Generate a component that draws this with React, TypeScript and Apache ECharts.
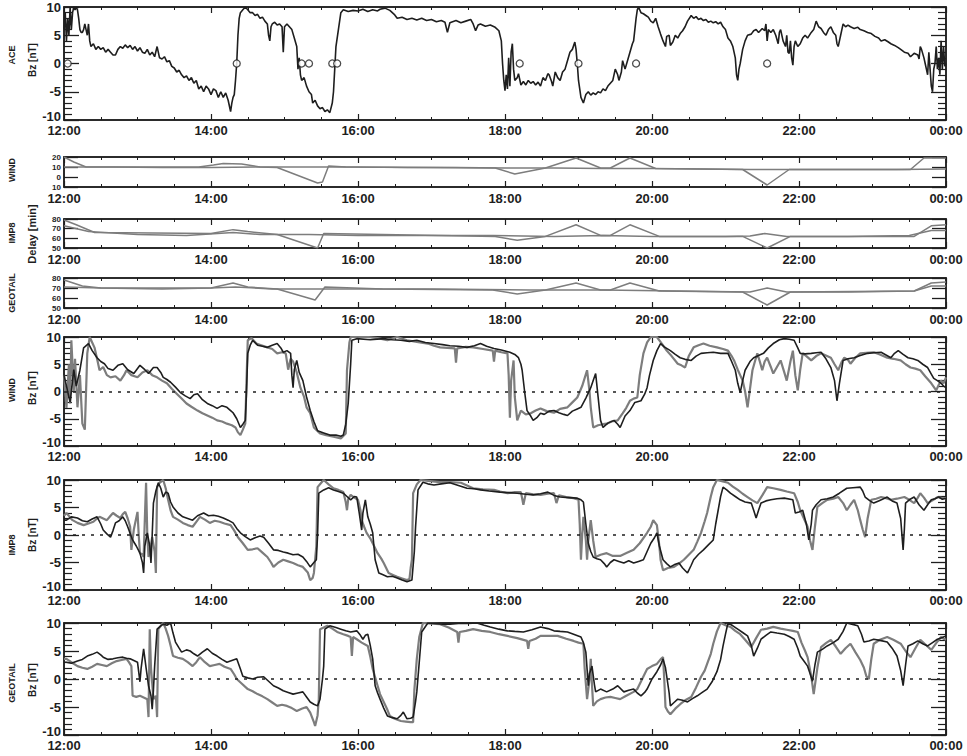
import React, { useEffect, useRef } from "react";
import * as echarts from "echarts";

type P = [number, number][];

const HOUR_LABELS = ["12:00", "14:00", "16:00", "18:00", "20:00", "22:00", "00:00"];
const BZ_TICK_LABELS = ["-10", "-5", "0", "5", "10"];
const WIND_DELAY_TICK_LABELS = ["10", "0", "10", "20"];
const DELAY_TICK_LABELS = ["50", "60", "70", "80"];

// minutes after 12:00 UT, value
const ACE_BZ: P = [[0,6],[1,9],[2,4],[3,8],[4,5],[5,10],[6,6],[7,9],[8,10],[9,9.5],[10,10],[11,9.5],[12,8],[13,6],[14,5.5],[15,5.5],[16,6],[17,7],[18,6],[19,5],[20,7],[21,4],[22,3],[24,3.5],[26,2.5],[28,3],[30,2.5],[32,2.8],[34,2],[36,2.5],[38,2],[40,1.5],[42,1.5],[44,2.5],[46,3],[48,2.7],[50,3.3],[52,2.8],[54,3.2],[56,2.5],[58,3],[60,2.2],[62,2.8],[64,2],[66,1.8],[68,2.5],[70,1.5],[72,2],[74,1.2],[76,3],[78,1],[80,0.8],[82,1.2],[84,0.3],[86,0.5],[88,-0.5],[90,-0.8],[92,-1.5],[94,-1.2],[96,-2],[98,-2.5],[100,-2.2],[102,-3],[104,-2.5],[106,-3.5],[108,-3],[110,-4.5],[112,-4],[114,-5],[116,-4],[118,-4.5],[120,-5.5],[122,-4.5],[124,-4.8],[126,-6],[128,-5],[130,-6],[132,-5.2],[134,-6.5],[136,-8.5],[137,-7],[138,-6],[139,-5.5],[140,-3],[141,0],[142,5],[143,8],[144,9],[146,9.5],[148,10],[150,9.5],[152,9],[154,9],[156,8.5],[158,8.7],[160,8],[162,8.2],[164,7.5],[166,7],[167,5],[168,4],[169,6.5],[170,7],[172,7.3],[174,6.8],[176,7],[178,6.5],[179,2],[180,6.5],[182,7],[184,6.5],[186,6],[188,4.5],[190,3],[191,-1],[192,1],[193,-2],[194,-3],[196,-2.5],[198,-4],[200,-5],[202,-5.5],[203,-7],[205,-6.5],[207,-7.5],[209,-8],[211,-7.8],[213,-8.5],[215,-8.2],[217,-8.7],[219,-7],[220,-5],[221,-1],[222,3],[224,6],[226,9],[228,9.5],[232,9.2],[236,9.4],[240,9.3],[244,9.6],[248,9.2],[252,9.5],[256,9.3],[258,9.6],[262,9.8],[266,9.4],[270,8.6],[272,8],[276,8.2],[280,7.8],[284,8],[288,7.7],[292,8],[296,7.6],[300,7.8],[304,7.4],[308,7.6],[311,7.3],[313,5.5],[315,7.2],[320,7.6],[324,7.2],[328,7.5],[332,7.8],[334,7],[336,5.8],[338,6.8],[340,7],[344,6.6],[348,6.8],[352,6.4],[355,5.8],[357,4],[358,0],[359,-3],[360,-4.8],[361,-2],[362,-4.5],[363,1],[364,-4],[365,2],[366,3.5],[367,-1],[368,-3],[370,-2.5],[371,-1.8],[373,-3.8],[375,-3.2],[377,-3.8],[379,-3],[381,-3.5],[383,-3.2],[385,-3.8],[387,-3.3],[389,-4],[391,-2.5],[393,-3],[395,-1.8],[396,-2],[398,-3.2],[399,-4],[401,-1.5],[403,-2.5],[405,-3],[407,-1.5],[409,-1],[411,0.5],[413,2],[415,2.5],[417,3.8],[418,2.5],[419,0],[420,-3],[422,-6],[424,-7],[426,-5.5],[428,-5],[430,-5.6],[432,-5.2],[434,-5.5],[436,-5],[438,-5.2],[440,-4.5],[442,-4.8],[444,-4],[446,-3.5],[448,-3],[450,-1],[452,-2],[453,-3],[455,-1.5],[456,0.5],[458,-1],[460,0.5],[462,2],[464,3.5],[465,4],[466,6],[467,8],[468,9.5],[469,10],[471,9],[473,8.8],[475,8.5],[477,8.2],[479,7.5],[481,7.2],[483,8],[485,6.5],[487,5.2],[489,4],[491,3],[492,4.8],[494,5],[495,3.2],[497,3.8],[499,5],[501,4.5],[503,5.3],[505,5.8],[507,6.5],[509,7.5],[512,8.5],[514,8],[516,8.3],[518,7.8],[520,8],[522,7.6],[524,7.8],[526,7.3],[528,7.5],[530,7.2],[532,7.4],[534,7],[536,7.3],[538,6.5],[540,6],[542,4.5],[544,4],[546,3],[548,1],[549,-2],[550,-3],[551,-1],[552,0],[554,2.5],[556,4],[558,5],[561,5.2],[563,5.8],[565,6],[567,5.5],[570,6.2],[572,5.8],[573,7],[574,4],[575,6],[577,5.5],[579,6],[581,5],[583,3.5],[584,5.5],[585,6],[587,4],[589,3],[590,5],[591,2],[592,1.8],[593,4],[594,1],[595,-0.3],[596,3],[597,4],[599,3],[601,3.5],[603,4.5],[605,5],[607,4.5],[610,5.5],[612,6],[614,7.5],[616,6.5],[618,6.2],[620,5.5],[622,5],[624,6],[626,6.5],[628,5.5],[630,5],[631,3.5],[632,3],[634,5],[636,7],[638,6.5],[640,6.8],[642,6.5],[645,6.2],[648,6.4],[650,6],[653,5.8],[656,5.5],[659,5.3],[662,4.8],[665,4.5],[667,4],[670,4.2],[673,3.8],[675,3.5],[678,3.2],[681,2.8],[683,2.5],[686,2],[689,1.8],[691,1.2],[694,1.8],[697,1.5],[698,0.8],[699,3],[700,2.5],[702,1],[703,0],[704,-1],[705,-2],[706,2],[707,-1],[708,-4],[709,-5],[710,-1],[711,0],[712,3],[713,-1],[714,1],[715,-2],[716,4],[717,-1],[718,3],[719,-0.5],[720,0]];

const ACE_MARK_TIMES = [3, 141, 194, 200, 219, 223, 372, 420, 467, 574];

const WIND_DELAY_A: P = [[0,10],[40,10],[80,9.5],[120,9.5],[160,10],[200,10],[240,10],[280,9.5],[320,9.5],[360,9],[400,9],[440,8.5],[480,8.5],[520,8],[560,7.5],[600,7.5],[640,7.5],[680,7.5],[720,8]];
const WIND_DELAY_B: P = [[0,20],[8,15],[18,10],[60,10],[110,10],[122,12],[130,13.5],[145,13],[160,10],[174,9.5],[207,-6],[211,-5],[216,11],[230,10],[300,9.5],[352,9],[368,3],[393,9],[418,19],[438,9],[446,9],[462,19],[483,8.5],[554,7.5],[574,-8],[592,7.5],[691,7.5],[702,19],[720,19]];

const IMP8_DELAY_A: P = [[0,73],[20,67],[60,64],[100,63],[138,66],[160,64],[200,64],[240,63],[300,63],[350,63],[400,62],[440,63],[480,62],[540,62],[560,62.5],[572,65],[590,62],[640,62],[690,63],[708,68],[720,68]];
const IMP8_DELAY_B: P = [[0,79],[10,74],[25,66],[120,65],[138,69],[150,67],[174,64],[207,50],[212,65],[260,64],[352,62],[370,58],[393,62],[418,74],[438,63],[446,63],[462,74],[486,62],[554,62],[574,50],[593,62],[694,62],[708,73],[720,74]];

const GEOTAIL_DELAY_A: P = [[0,71],[30,70],[80,69],[120,70],[140,71],[170,69],[220,69],[300,69],[380,68],[440,68],[500,67],[560,66],[574,70],[590,66],[640,66],[694,67],[708,72],[720,72]];
const GEOTAIL_DELAY_B: P = [[0,78],[15,72],[30,70],[120,70],[138,75],[150,71],[174,69],[205,58],[213,71],[260,69],[350,68],[370,64],[393,68],[418,75],[438,68],[446,68],[462,75],[486,67],[554,66],[574,53],[593,66],[694,67],[708,75],[720,76]];

const WIND_BZ_OBS: P = [[0,3],[3,0],[5,-2],[8,4],[10,1],[13,3.9],[16,8],[20,8.8],[23,7.5],[27,6.2],[30,5.5],[33,5.1],[36,4.2],[40,3.9],[44,4.8],[48,5.1],[52,4],[57,3.3],[62,4.8],[66,4],[69,3.3],[73,4.4],[76,4.4],[79,3.5],[81,2.6],[84,2.2],[87,1.7],[91,0.8],[95,-0.2],[99,-0.8],[103,-1.3],[106,-0.6],[109,-0.4],[113,-1.5],[117,-2.2],[121,-2.6],[125,-3.1],[129,-2.6],[133,-2.9],[136,-3.5],[138,-3.9],[141,-5],[144,-6.6],[146,-6],[148,-5.3],[149,0],[150,7],[152,8.5],[154,9.4],[158,8.5],[162,8.3],[166,8.1],[170,8.5],[174,8.8],[177,8],[179,7.2],[182,7.5],[185,7],[186,3],[187,0.7],[188,4],[190,5.7],[192,3.5],[195,2],[198,-1],[201,-3.5],[204,-5.5],[207,-7.2],[212,-7.6],[217,-8],[222,-8],[226,-8.2],[228,-8],[230,-6],[232,-2.2],[234,5],[235,9.4],[239,9.7],[250,9.5],[261,9.7],[268,9.5],[275,9.4],[282,9.2],[288,9.4],[295,9],[302,8.8],[309,8.6],[315,8.4],[322,8.3],[329,8.1],[335,8.4],[340,8.8],[345,8.3],[351,7.9],[357,7.6],[364,7.2],[368,6.8],[371,6.2],[373,5],[374,3.9],[376,0],[378,-3.5],[381,-4.5],[383,-5.3],[386,-4.8],[389,-4],[392,-4.2],[396,-3.6],[400,-3.5],[404,-3.9],[408,-4.2],[411,-4.4],[415,-3.6],[419,-3.2],[422,-2.9],[426,-1.2],[430,0.7],[432,2],[434,3.3],[436,-1],[438,-5.3],[440,-6.6],[444,-5.8],[449,-5.3],[452,-6],[454,-6.6],[458,-4.5],[462,-3.5],[466,-2],[471,-1.7],[474,-0.5],[476,0.7],[478,3],[481,5.7],[484,7.5],[487,8.8],[490,8.2],[495,7.5],[499,6.8],[503,6.2],[507,5.9],[512,5.7],[516,6.5],[520,7],[525,7.1],[530,7.2],[536,7],[542,7],[545,5.5],[548,3.9],[550,1.5],[552,-0.2],[554,2],[556,3.9],[560,5.5],[563,6.2],[567,6.6],[571,7],[575,8],[579,8.8],[584,9.5],[588,9.7],[592,9.6],[596,9.4],[599,8],[601,7],[605,6.9],[610,7],[614,7.1],[618,7.2],[622,6],[626,4.4],[629,2],[631,-1.7],[633,1.5],[636,5.7],[640,6],[645,6.2],[650,6.6],[656,7],[661,7.1],[667,7.2],[671,6.7],[675,6.2],[678,7],[681,7.5],[685,6.8],[689,6.2],[693,6],[697,5.7],[701,5],[705,4.4],[708,3.2],[710,2.4],[713,2],[716,1.5],[718,1],[720,0.7]];
const WIND_BZ_ACE: P = [[0,3],[2,-3],[4,5],[5,-2.2],[6,9.4],[8,0],[9,6],[11,-2.9],[13,3],[15,-5.9],[17,-7],[19,7],[21,10],[23,9],[25,8],[27,6],[29,3.9],[32,4.5],[35,3],[38,2.6],[42,2.8],[46,2],[49,3],[51,3.9],[55,3],[60,2.6],[64,3.5],[68,3.9],[72,3],[76,2.6],[80,2],[84,1.5],[88,0.5],[92,-0.4],[96,-1.3],[100,-2.2],[104,-2.8],[109,-3.5],[113,-4],[117,-4.4],[121,-4.8],[125,-5.3],[129,-5.5],[133,-5.9],[137,-6.2],[140,-6.6],[142,-7.5],[144,-8],[146,-7],[148,-5.9],[149,2],[150,9.4],[153,9.8],[157,8.8],[161,8.5],[166,8.1],[170,7.8],[174,7],[178,7.2],[181,7],[183,4],[185,6],[187,5.5],[190,3.5],[193,0.7],[196,-1],[198,-2.9],[201,-4],[204,-6.6],[209,-7.7],[214,-8],[220,-8.3],[226,-8.6],[230,-7.7],[231,3.9],[233,9],[234,10],[241,10],[248,10],[256,9.8],[264,9.4],[272,10],[280,9.4],[288,9.1],[297,8.8],[302,8.4],[307,8.1],[313,8],[319,7.9],[320,5.3],[321,7.9],[328,8.2],[334,8.1],[342,7.8],[350,7.5],[351,5.5],[352,7.5],[357,7.2],[362,7],[363,3],[364,-4.8],[365,2],[367,5.7],[368,-1],[370,-5.3],[373,-3.5],[377,-4.2],[381,-4],[385,-3.5],[389,-3.1],[394,-3.6],[400,-3.9],[405,-3.2],[411,-2.9],[415,-2],[419,-1.1],[423,1],[427,3.9],[429,0],[430,-2.9],[432,-6.6],[436,-6.2],[440,-6],[443,-5.9],[447,-5.5],[452,-5.3],[456,-4],[459,-3],[462,-1.7],[465,-1.3],[468,-1.1],[470,3],[473,7],[476,9],[479,10],[484,10],[488,8.8],[492,7.5],[496,6.5],[501,5.1],[504,4.8],[507,4.4],[510,6.5],[514,8.1],[518,8.5],[522,8.8],[527,8.4],[533,8.1],[538,7.8],[542,7.5],[545,6.5],[547,5.7],[550,4],[554,2],[556,0],[558,-2.9],[560,0.5],[562,3.9],[564,5.5],[566,7],[568,5.5],[570,3.9],[572,5.5],[574,6.2],[577,4.5],[579,3.3],[582,4.5],[585,5.7],[588,3.5],[590,2],[593,5.5],[595,7.5],[597,3],[599,0.2],[601,4],[603,7],[606,6.5],[610,5.7],[614,6.5],[618,7],[622,6.6],[626,6.2],[629,5],[632,3.9],[635,5.5],[637,6.2],[640,5.8],[642,5.1],[646,6.2],[650,7],[655,7.1],[661,7.2],[666,6.8],[672,6.2],[677,6],[683,5.7],[687,5],[691,4.4],[695,4.2],[699,3.9],[703,2.8],[708,1.5],[712,0.2],[714,1.2],[716,2],[718,1.5],[720,2.6]];

const IMP8_BZ_OBS: P = [[0,2.7],[2,2.7],[6,3.3],[11,3.1],[15,2.6],[19,2.4],[23,2.9],[27,3.3],[30,2],[32,0.9],[35,0.2],[38,-0.4],[40,0.8],[42,2.2],[45,2.6],[48,3.3],[50,2.6],[52,1.5],[54,0.3],[56,-0.9],[59,-2],[62,-3.3],[64,-5],[65,-6.9],[66,-2],[68,0.4],[70,-2],[71,-5.1],[72,0],[73,5.8],[75,8],[77,9.5],[79,8.5],[81,6.9],[83,7.8],[85,7.6],[87,6],[89,5.1],[93,4],[97,3.3],[101,3],[105,2.7],[109,3.5],[114,4],[118,3.5],[122,3.6],[126,3.4],[130,3.1],[134,2.7],[138,2.2],[141,1.2],[144,0.4],[148,-0.3],[152,-0.9],[156,-0.5],[160,-0.2],[163,-0.4],[167,-1.5],[171,-2.7],[175,-2.8],[179,-3.1],[183,-3.3],[187,-3.6],[191,-3.5],[195,-4],[198,-4.8],[201,-5.8],[204,-5],[206,-4.5],[207,0],[208,7.6],[212,8.2],[216,8.6],[220,8.2],[224,7.9],[228,7.6],[231,7],[234,6.4],[237,7],[239,6.9],[241,4],[243,0.9],[244,4],[246,6.4],[248,3.3],[250,2],[252,0.4],[254,-4.5],[257,-6.9],[260,-7.2],[264,-7.6],[268,-7.5],[272,-7.8],[276,-8.2],[280,-8.5],[284,-8.2],[286,-3],[287,1.5],[289,8.2],[293,9.6],[297,9.3],[302,9.1],[308,9.3],[315,9.5],[322,9],[329,8.5],[335,8.4],[340,8.2],[347,8],[356,7.8],[363,7.7],[370,7.6],[377,7.4],[383,7.3],[389,7.5],[395,7.8],[400,7.2],[405,6.9],[412,6.8],[419,6.7],[422,6.4],[424,6],[426,2],[428,-1.5],[430,-3],[432,-4],[435,-4.3],[438,-4.5],[441,-5.2],[443,-5.8],[446,-5],[449,-4.5],[453,-4.8],[457,-5.1],[461,-4.7],[465,-5.1],[469,-4.8],[473,-4.5],[476,-3],[479,-1.5],[482,-0.5],[484,0.4],[486,-2],[489,-4.5],[492,-5.2],[495,-5.8],[499,-5.3],[502,-5.1],[505,-6],[509,-6.9],[512,-5.5],[514,-4.5],[518,-3.5],[522,-2.7],[526,-1.8],[530,-0.9],[532,2],[534,4.5],[536,7],[538,8.7],[541,8.2],[544,7.6],[548,7],[552,6.4],[556,6],[561,5.8],[563,4.5],[565,3.1],[567,4.5],[569,5.8],[573,6.2],[577,6.4],[582,6.6],[588,6.7],[595,6.4],[597,4],[600,4.2],[603,4.5],[606,2],[608,-0.9],[610,2],[611,4.5],[614,5.5],[618,6.4],[623,6.6],[628,6.9],[633,7.6],[639,8.5],[644,8.6],[650,8.7],[652,8],[654,6.9],[658,6.2],[661,5.8],[665,6.2],[669,6.6],[672,6.9],[676,6.2],[680,5.8],[683,3],[685,-2.7],[686,1],[687,5.8],[690,6.4],[694,6.9],[698,5.5],[702,4.5],[705,5.5],[708,6.4],[711,6.6],[714,6.9],[717,6.5],[720,6.7]];
const IMP8_BZ_ACE: P = [[0,3.5],[2,4],[5,3.2],[7,2.7],[11,2.2],[16,1.8],[20,2.1],[24,2.4],[27,3],[29,3.3],[32,3],[35,2.7],[38,3.5],[40,4],[43,3.5],[46,3.1],[48,3.8],[50,4.2],[52,3],[54,1.5],[55,-2.7],[57,1],[60,4.2],[61,0],[62,-3.3],[64,-3.5],[65,-4],[66,3],[67,9.5],[68,0],[69,-4],[70,-3],[72,-0.4],[74,-3],[75,-6.9],[76,8.7],[78,9.5],[81,10],[83,8.5],[85,6.4],[87,4.5],[89,3.3],[93,2.8],[97,2.2],[101,1.8],[105,1.5],[108,2.4],[111,3.3],[115,2.8],[119,2.2],[123,2.6],[127,2.4],[131,2.1],[136,1.8],[139,0.8],[142,-0.4],[146,-1.5],[150,-2.7],[154,-2.6],[158,-2.4],[162,-3.2],[166,-4],[169,-5],[171,-5.8],[175,-5],[179,-4.5],[183,-4.8],[187,-5.1],[191,-5.5],[195,-5.8],[199,-6.8],[201,-8.2],[203,-7.8],[204,-6.9],[206,-2],[207,8.7],[210,9.5],[212,10],[216,9.2],[220,8.5],[224,8.2],[228,7.8],[230,6],[231,4.5],[232,6.5],[234,7.3],[237,6.8],[240,6.4],[242,4.5],[243,2.7],[245,1.5],[247,0.4],[250,-0.6],[252,-1.5],[254,-2.4],[256,-3.3],[259,-4.3],[261,-5.1],[263,-6],[265,-6.9],[269,-7.3],[272,-7.6],[276,-7.9],[280,-8.2],[282,-8],[283,-6],[284,-4.5],[285,7.6],[288,9.2],[291,10],[299,9.8],[307,9.6],[315,9.6],[324,9.5],[329,9],[334,8.5],[342,8.3],[351,8.2],[356,7.9],[362,7.6],[368,7.8],[373,7.8],[375,5.5],[377,7.6],[383,7.4],[389,7.3],[395,7.5],[400,7.6],[402,5.8],[404,7.2],[410,6.9],[416,6.7],[420,6.4],[421,2],[422,-4.5],[423,0],[424,3.3],[426,-1],[427,-4.5],[428,-1],[430,2.7],[432,-1],[434,-4],[438,-3.6],[443,-3.3],[448,-3.8],[454,-3.8],[460,-3.2],[465,-2.7],[470,-1.5],[476,0.4],[479,1.5],[481,2.7],[484,1.8],[486,-2],[487,-4.5],[489,-6.4],[493,-6],[498,-5.8],[502,-5.2],[506,-4.5],[510,-3.6],[514,-2.7],[517,-1.2],[520,0.4],[523,2.5],[525,4],[528,7],[530,8.7],[533,10],[537,9.8],[542,9.5],[546,8.8],[550,8.2],[554,7.5],[558,6.9],[562,6.3],[566,5.8],[570,7.2],[574,8.7],[579,8.5],[585,8.2],[590,7.9],[596,7.6],[599,6],[601,4.5],[604,3],[607,1.5],[609,-1],[611,-2.7],[613,1.5],[615,5.1],[619,5.8],[623,6.4],[628,6.6],[632,6.9],[636,5.8],[639,4.5],[642,5.5],[645,6.4],[648,4.5],[650,2.7],[652,1],[654,-0.4],[656,3],[659,6.4],[663,6.6],[667,6.9],[671,6.7],[675,6.4],[680,6.6],[686,6.9],[690,6.4],[694,5.8],[697,6.8],[699,7.6],[702,6.8],[705,5.8],[709,6.3],[713,6.9],[717,6.7],[720,6.7]];

const GEOTAIL_BZ_OBS: P = [[0,3],[2,3],[6,2.8],[11,3.2],[15,3.5],[19,4.1],[23,4.4],[27,4.8],[30,4.3],[32,3.9],[36,3.5],[40,3.6],[44,3.8],[48,3.9],[51,3.7],[54,3.6],[57,3.3],[60,3],[62,-0.5],[63,2],[65,5.4],[67,2],[69,-1.2],[71,-3],[72,-5.4],[73,-2],[74,2.3],[76,8.9],[79,9.5],[81,9.8],[84,9.6],[87,10],[89,8.2],[91,6.6],[94,5.5],[96,4.8],[100,5.2],[103,5],[106,4.5],[109,4.1],[113,4.8],[117,5.4],[121,4.6],[125,4.1],[129,3.5],[133,3],[137,3.3],[141,3.6],[144,1.8],[146,0.5],[150,0.2],[154,0],[158,0.3],[163,0.4],[167,-0.4],[171,-1.2],[175,-1.6],[179,-2.1],[183,-2.4],[187,-2.7],[191,-2.5],[195,-2.3],[198,-3.2],[201,-4.1],[204,-4.5],[207,-4.8],[209,-3.6],[211,0],[212,2.3],[213,8.9],[217,9.5],[222,9.2],[226,8.9],[230,8.6],[234,8.4],[239,8.6],[242,7.8],[244,7.1],[246,7.8],[248,8],[250,6],[252,3.6],[254,-1.2],[256,-2.5],[258,-3.6],[261,-5.2],[264,-6.6],[268,-6.9],[272,-7.1],[275,-6.5],[277,-5.9],[280,-7.1],[283,-7],[285,-6.8],[287,-4],[288,-2.3],[290,3],[292,8.4],[297,10],[303,9.9],[309,9.8],[315,9.8],[322,9.9],[330,9.9],[337,10],[343,9.6],[348,9.3],[355,8.9],[362,8.6],[368,8.5],[375,8.4],[382,8.8],[389,9.3],[395,9],[400,8.6],[405,8.5],[411,8.4],[416,8],[422,7.5],[424,6.5],[426,4.8],[428,-1.2],[429,1],[431,2.3],[433,-1],[434,-2.3],[438,-1.8],[443,-2.3],[448,-1.8],[452,-1.2],[457,-2.3],[461,-2],[465,-1.8],[468,-2.5],[471,-3],[474,-2.4],[476,-1.8],[480,0],[484,1.3],[487,2.5],[489,3.6],[491,2],[492,0.5],[494,-2.5],[495,-4.8],[498,-4.2],[501,-3.6],[505,-3.8],[509,-4.1],[513,-3.5],[517,-3],[521,-2.4],[525,-1.8],[529,-0.5],[533,1.3],[536,3.5],[538,5.9],[540,8],[542,10],[546,9.5],[550,8.9],[554,8.3],[558,7.7],[561,6],[563,4.1],[566,5.5],[569,7.1],[573,7.8],[577,8.4],[582,8.2],[588,8],[592,7.6],[596,7.1],[599,5.5],[601,4.1],[604,3.2],[607,2.3],[609,1],[611,-0.4],[613,2.5],[615,4.8],[619,5.3],[623,5.9],[628,6.5],[632,7.1],[636,8.5],[639,10],[643,9.8],[648,9.5],[651,8],[653,6.6],[657,6.8],[661,7.1],[666,6.9],[672,6.6],[676,5.5],[680,4.1],[683,1.5],[685,-1.2],[687,2.5],[689,5.9],[693,6.3],[697,6.8],[701,6.3],[705,5.9],[709,6.5],[713,7.1],[717,7.4],[720,7.7]];
const GEOTAIL_BZ_ACE: P = [[0,3.6],[2,3.6],[6,3],[11,2.3],[15,2],[19,1.8],[23,2.2],[27,2.7],[31,2.5],[35,2.3],[39,2.8],[43,3.2],[47,3.4],[51,3.6],[53,3],[55,2.3],[56,-3],[59,-3.2],[62,-3],[65,-3.3],[68,-3.6],[69,-6.8],[70,8.9],[71,2],[73,-3.6],[75,-3],[76,-6.8],[77,8.9],[79,9.5],[81,10],[83,9],[85,7.7],[87,6],[89,4.1],[93,3.8],[97,3.6],[101,3],[105,2.3],[108,3],[111,3.9],[115,3],[119,2.3],[123,2.5],[127,2.7],[131,2.2],[136,1.8],[139,0.8],[141,0],[145,-0.8],[150,-1.8],[154,-2.2],[158,-2.7],[162,-3.1],[166,-3.6],[170,-4.2],[174,-4.8],[178,-4.6],[182,-4.8],[186,-5.2],[190,-5.7],[194,-5.3],[198,-5],[201,-6],[204,-7.7],[205,-8.4],[207,-6.5],[208,-3.6],[209,8.9],[212,9.2],[215,9.5],[219,9],[223,8.4],[228,8],[232,7.7],[234,7.5],[235,4.1],[236,7.5],[239,7.1],[243,6.5],[248,5.9],[250,4],[252,1.8],[254,0.3],[256,-1.2],[258,-2.7],[261,-4.1],[264,-5.5],[266,-6.6],[270,-7.1],[275,-7.5],[279,-7.6],[283,-7.7],[285,-7.7],[286,-2],[288,3.6],[290,7.5],[293,10],[300,9.9],[307,9.8],[314,9.2],[321,8.4],[322,6.5],[323,8.4],[328,8.6],[334,8.9],[341,8.6],[348,8.4],[355,8],[362,7.7],[370,7.3],[378,6.8],[379,5.4],[380,6.8],[385,7.2],[389,7.7],[396,7.7],[403,7.7],[410,7.2],[416,6.8],[420,6.5],[424,6.3],[425,2],[427,-3.6],[429,0],[430,3.6],[431,-1],[432,-4.8],[435,-4],[438,-3.6],[442,-3.3],[446,-3.2],[450,-3.4],[454,-3.6],[459,-3],[465,-2.3],[468,-1.8],[472,0],[476,1.8],[480,2.3],[484,2.7],[487,3.5],[489,3.9],[490,0],[491,-5],[493,-5.8],[495,-6.3],[499,-5.3],[503,-4.5],[507,-3.8],[512,-3.2],[516,-1.5],[520,0.4],[523,1.5],[525,2.7],[528,4.5],[530,6.3],[533,8.5],[536,10],[540,9.6],[544,9.3],[548,8.6],[552,8],[556,7],[561,5.7],[565,7.3],[569,8.8],[574,9],[579,9.3],[585,9],[590,8.8],[595,8.6],[599,8.4],[602,6.5],[605,5],[607,3.9],[610,0.5],[612,-2.7],[615,2],[618,5.7],[622,6.4],[626,7],[630,5.8],[634,4.5],[638,5.5],[642,6.3],[646,4.8],[650,3.4],[653,2],[655,0.5],[657,0],[659,3.5],[661,6.3],[666,7],[672,7.5],[677,7],[683,6.3],[687,5],[691,3.9],[695,5.5],[699,7],[703,6.2],[708,5.2],[712,6.4],[716,7.5],[718,7.2],[720,7]];

const FONT = '"Liberation Sans", Arial, sans-serif';
const INK = "#1e1e1e";
const GRAY = "#7d7d7d";

export default function App() {
  const ref = useRef<HTMLDivElement>(null);
  useEffect(() => {
    if (!ref.current) return;
    const chart = echarts.init(ref.current, undefined, { renderer: "svg" });

    const panels = [
      { top: 7, height: 113, min: -10, max: 10, interval: 5, minor: true, labels: BZ_TICK_LABELS, fs: 13, xm: 4 },
      { top: 157, height: 30, min: -10, max: 20, interval: 10, minor: false, labels: WIND_DELAY_TICK_LABELS, fs: 8, xm: 5 },
      { top: 219, height: 29, min: 50, max: 80, interval: 10, minor: false, labels: DELAY_TICK_LABELS, fs: 8, xm: 5 },
      { top: 278, height: 30, min: 50, max: 80, interval: 10, minor: false, labels: DELAY_TICK_LABELS, fs: 8, xm: 5 },
      { top: 337, height: 109, min: -10, max: 10, interval: 5, minor: true, labels: BZ_TICK_LABELS, fs: 13, xm: 4 },
      { top: 480, height: 110, min: -10, max: 10, interval: 5, minor: true, labels: BZ_TICK_LABELS, fs: 13, xm: 4 },
      { top: 623, height: 112, min: -10, max: 10, interval: 5, minor: true, labels: BZ_TICK_LABELS, fs: 13, xm: 4 },
    ];

    const grid = panels.map((p) => ({
      left: 64, right: 21, top: p.top, height: p.height,
      show: true, borderColor: INK, borderWidth: 1.5, backgroundColor: "transparent",
    }));

    const xAxisBase = (i: number) => ({
      gridIndex: i, type: "value", min: 0, max: 720, interval: 120,
      splitLine: { show: false },
      axisLine: { show: true, onZero: false, lineStyle: { color: INK, width: 1.5 } },
      axisTick: { show: true, inside: true, length: 6, lineStyle: { color: INK, width: 1.2 } },
      minorTick: { show: true, splitNumber: 4, length: 3, lineStyle: { color: INK, width: 1 } },
    });
    const xAxis: any[] = [];
    panels.forEach((p, i) => {
      xAxis.push({
        ...xAxisBase(i), position: "bottom",
        axisLabel: {
          show: true, margin: p.xm, color: INK, fontFamily: FONT, fontWeight: "bold", fontSize: 13,
          showMinLabel: true, showMaxLabel: true,
          formatter: (v: number) => HOUR_LABELS[Math.round(v / 120)] ?? "",
        },
      });
    });
    panels.forEach((_, i) => {
      xAxis.push({ ...xAxisBase(i), position: "top", axisLabel: { show: false } });
    });

    const yAxis: any[] = [];
    panels.forEach((p, i) => {
      const base = {
        gridIndex: i, type: "value", min: p.min, max: p.max, interval: p.interval,
        splitLine: { show: false },
        axisLine: { show: true, onZero: false, lineStyle: { color: INK, width: 1.5 } },
        axisTick: { show: true, inside: true, length: p.minor ? 15 : 14, lineStyle: { color: INK, width: 1.3 } },
        minorTick: { show: p.minor, splitNumber: 5, length: 8, lineStyle: { color: INK, width: 1.2 } },
      };
      yAxis.push({
        ...base, position: "left",
        axisLabel: {
          show: true, margin: 3, color: INK, fontFamily: FONT, fontWeight: "bold", fontSize: p.fs,
          showMinLabel: true, showMaxLabel: true, hideOverlap: false,
          formatter: (v: number) => {
            const s = p.labels[Math.round((v - p.min) / p.interval)] ?? "";
            return p.minor && v === p.min ? `{lo|${s}}` : s;
          },
          rich: {
            lo: {
              fontSize: p.fs, fontWeight: "bold", fontFamily: FONT, color: INK,
              padding: [0, 0, 8, 0],
            },
          },
        },
      });
      yAxis.push({ ...base, position: "right", axisLabel: { show: false } });
    });

    const line = (panel: number, data: P, color: string, width: number, extra: any = {}) => ({
      type: "line", xAxisIndex: panel, yAxisIndex: panel * 2, data,
      showSymbol: false, symbol: "none", silent: true,
      lineStyle: { color, width }, itemStyle: { color }, z: color === INK ? 3 : 2,
      ...extra,
    });
    const zeroLine = {
      markLine: {
        silent: true, symbol: "none", label: { show: false },
        lineStyle: { color: INK, type: [3, 6], width: 1.6 },
        data: [{ yAxis: 0 }],
      },
    };

    const series: any[] = [
      line(0, ACE_BZ, INK, 1.6),
      {
        type: "scatter", xAxisIndex: 0, yAxisIndex: 0, silent: true, z: 5,
        data: ACE_MARK_TIMES.map((t) => [t, 0]),
        symbol: "circle", symbolSize: 7,
        itemStyle: { color: "#ffffff", borderColor: INK, borderWidth: 1.3 },
      },
      line(1, WIND_DELAY_A, GRAY, 1.5),
      line(1, WIND_DELAY_B, GRAY, 1.5),
      line(2, IMP8_DELAY_A, GRAY, 1.5),
      line(2, IMP8_DELAY_B, GRAY, 1.5),
      line(3, GEOTAIL_DELAY_A, GRAY, 1.5),
      line(3, GEOTAIL_DELAY_B, GRAY, 1.5),
      line(4, WIND_BZ_ACE, GRAY, 2.2, zeroLine),
      line(4, WIND_BZ_OBS, INK, 1.6),
      line(5, IMP8_BZ_ACE, GRAY, 2.2, zeroLine),
      line(5, IMP8_BZ_OBS, INK, 1.6),
      line(6, GEOTAIL_BZ_ACE, GRAY, 2.2, zeroLine),
      line(6, GEOTAIL_BZ_OBS, INK, 1.6),
    ];

    const vText = (text: string, x: number, y: number, size: number) => ({
      type: "text", x, y, rotation: Math.PI / 2, silent: true,
      style: {
        text, fill: INK, font: `bold ${size}px ${FONT}`,
        textAlign: "center", textVerticalAlign: "middle",
      },
    });

    const graphic = [
      vText("ACE", 12, 55, 9),
      vText("Bz [nT]", 32, 60, 10),
      vText("WIND", 12, 170, 9),
      vText("IMP8", 12, 233, 9),
      vText("Delay [min]", 32, 234, 11),
      vText("GEOTAIL", 12, 293, 9),
      vText("WIND", 12, 390, 9),
      vText("Bz [nT]", 32, 388, 10),
      vText("IMP8", 12, 545, 9),
      vText("Bz [nT]", 32, 535, 10),
      vText("GEOTAIL", 12, 683, 9),
      vText("Bz [nT]", 32, 680, 10),
    ];

    chart.setOption({
      animation: false,
      backgroundColor: "#ffffff",
      grid, xAxis, yAxis, series, graphic,
    });
    return () => chart.dispose();
  }, []);

  return (
    <div
      ref={ref}
      style={{ width: 967, height: 756, position: "absolute", left: 0, top: 0, background: "#fff" }}
    />
  );
}
